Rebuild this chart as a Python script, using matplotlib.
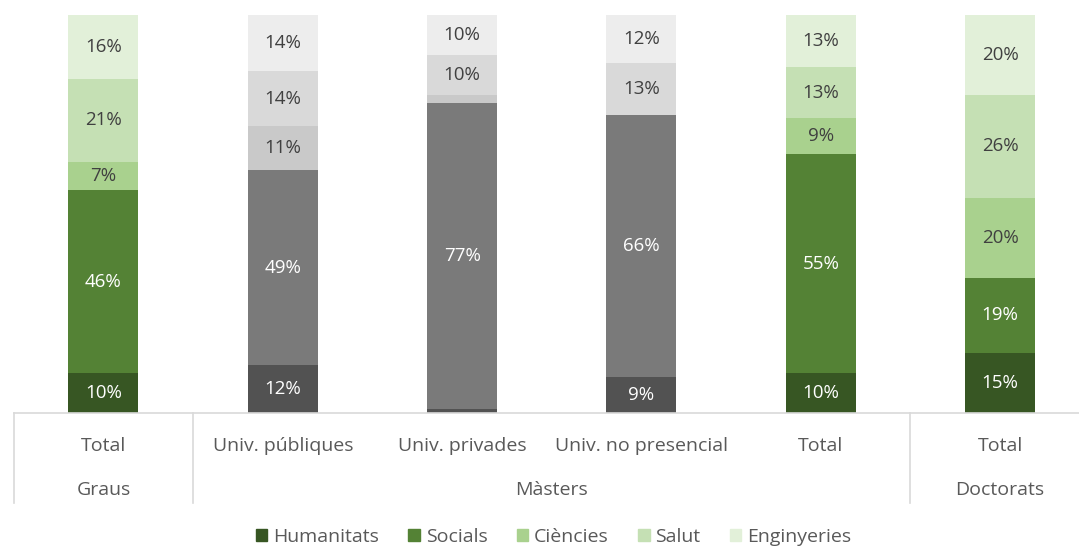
import matplotlib
matplotlib.use("Agg")
import matplotlib.pyplot as plt
import matplotlib.patches as mpatches
import matplotlib.transforms as mtransforms
import numpy as np

# ── Data ──────────────────────────────────────────────────────────────────────
categories  = ["Total", "Univ. públiques", "Univ. privades", "Univ. no presencial", "Total", "Total"]
groups      = ["Graus", "Màsters", "Doctorats"]
group_span  = [(0, 0), (1, 4), (5, 5)]          # first / last bar index of each group
series      = ["Humanitats", "Socials", "Ciències", "Salut", "Enginyeries"]
humanitats  = [10, 12, 1, 9, 10, 15]
socials     = [46, 49, 77, 66, 55, 19]
ciencies    = [7, 11, 2, 0, 9, 20]
salut       = [21, 14, 10, 13, 13, 26]
enginyeries = [16, 14, 10, 12, 13, 20]
values = [humanitats, socials, ciencies, salut, enginyeries]

# ── Style ─────────────────────────────────────────────────────────────────────
GREENS = ["#375623", "#548235", "#A9D18E", "#C5E0B4", "#E2F0D9"]
GREYS  = ["#525252", "#7A7A7A", "#C9C9C9", "#D9D9D9", "#EDEDED"]
bar_palette = [GREENS, GREYS, GREYS, GREYS, GREENS, GREENS]
TXT_LIGHT = "white"
TXT_DARK  = "#404040"
AXIS_GREY = "#D9D9D9"
LABEL_GREY = "#595959"

plt.rcParams["font.family"] = ["Open Sans", "DejaVu Sans"]

fig = plt.figure(figsize=(10.79, 5.47), dpi=100)
ax = fig.add_axes([13.8 / 1079, 134 / 547, 1076 / 1079, 398 / 547])

x = np.arange(len(categories))
bottom = np.zeros(len(categories))
for i, (name, vals) in enumerate(zip(series, values)):
    vals = np.array(vals, dtype=float)
    colors = [pal[i] for pal in bar_palette]
    ax.bar(x, vals, bottom=bottom, width=0.39, color=colors, edgecolor="none")
    for xi, b, v in zip(x, bottom, vals):
        if v >= 5:
            ax.text(xi, b + v / 2, f"{v:.0f}%", ha="center", va="center",
                    fontsize=13.5, color=TXT_LIGHT if i < 2 else TXT_DARK)
    bottom += vals

ax.set_xlim(-0.5, len(categories) - 0.5)
ax.set_ylim(0, 100)
ax.set_yticks([])
ax.set_xticks([])
for s in ["top", "right", "left"]:
    ax.spines[s].set_visible(False)
ax.spines["bottom"].set_color(AXIS_GREY)
ax.spines["bottom"].set_linewidth(1.2)

# ── Two-level category axis ──────────────────────────────────────────────────
trans = mtransforms.blended_transform_factory(ax.transData, ax.transAxes)
for xi, lab in zip(x, categories):
    ax.text(xi, -0.082, lab, transform=trans, ha="center", va="center",
            fontsize=14, color=LABEL_GREY)
for g, (a, b) in zip(groups, group_span):
    ax.text((a + b) / 2, -0.194, g, transform=trans, ha="center", va="center",
            fontsize=14, color=LABEL_GREY)
for sep in [-0.5, 0.5, 4.5, 5.5]:
    ax.plot([sep, sep], [0, -0.226], transform=trans, color=AXIS_GREY,
            lw=1.2, clip_on=False)

# ── Legend ────────────────────────────────────────────────────────────────────
handles = [mpatches.Patch(color=c, label=s) for s, c in zip(series, GREENS)]
fig.legend(handles=handles, loc="center", bbox_to_anchor=(0.513, 0.018), ncol=5,
           frameon=False, fontsize=14, labelcolor=LABEL_GREY,
           handlelength=0.6, handleheight=0.6, handletextpad=0.3, columnspacing=1.5)

plt.savefig("out.png", dpi=100)
plt.close()
